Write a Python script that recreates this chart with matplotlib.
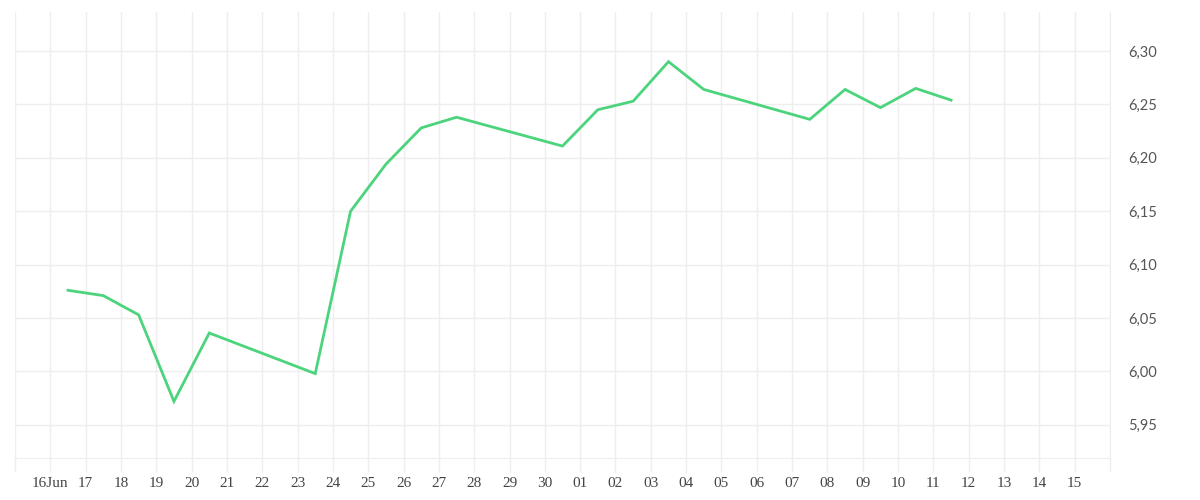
import numpy as np
import pandas as pd
import matplotlib
matplotlib.use("Agg")
import matplotlib.pyplot as plt
import matplotlib.dates as mdates
from matplotlib.ticker import FixedLocator, FuncFormatter

# data (points sit at midday)
dates = ["2023-06-16", "2023-06-17", "2023-06-18", "2023-06-19", "2023-06-20",
         "2023-06-23", "2023-06-24", "2023-06-25", "2023-06-26", "2023-06-27",
         "2023-06-30", "2023-07-01", "2023-07-02", "2023-07-03", "2023-07-04",
         "2023-07-07", "2023-07-08", "2023-07-09", "2023-07-10", "2023-07-11"]
values = [6.076, 6.071, 6.053, 5.972, 6.036,
          5.998, 6.150, 6.194, 6.228, 6.238,
          6.211, 6.245, 6.253, 6.290, 6.264,
          6.236, 6.264, 6.247, 6.265, 6.254]
yticks = [5.95, 6.00, 6.05, 6.10, 6.15, 6.20, 6.25, 6.30]

x = pd.to_datetime(dates) + pd.Timedelta(hours=12)
days = pd.date_range("2023-06-15", "2023-07-16", freq="D")

grid = "#eeeeee"
fig = plt.figure(figsize=(12, 5), dpi=100)
ax = fig.add_axes([15 / 1200, 42 / 500, 1095 / 1200, 446 / 500])

ax.plot(x, values, color="#4cd47d", lw=2, solid_joinstyle="miter")

ax.set_xlim(days[0], days[-1])
ax.set_ylim(5.919, 6.3365)

ax.xaxis.set_major_locator(FixedLocator(mdates.date2num(days)))

def xfmt(v, pos):
    d = mdates.num2date(v)
    if d.day == 15 and d.month == 6 or d.day == 16 and d.month == 7:
        return ""
    if d.day == 16 and d.month == 6:
        return "16Jun"
    return d.strftime("%d")

ax.xaxis.set_major_formatter(FuncFormatter(xfmt))
ax.set_yticks(yticks)
ax.yaxis.set_major_formatter(FuncFormatter(lambda v, p: f"{v:.2f}".replace(".", ",")))
ax.yaxis.tick_right()

ax.grid(True, color=grid, lw=1)
ax.set_axisbelow(True)
for s in ["top", "left"]:
    ax.spines[s].set_visible(False)
ax.spines["right"].set_color(grid)
ax.spines["bottom"].set_color(grid)

ax.tick_params(axis="x", length=10, color=grid, width=1, pad=4,
               labelcolor="#444444")
ax.tick_params(axis="y", length=0, pad=13, labelcolor="#555555")
for lbl in ax.get_xticklabels():
    lbl.set_family("Liberation Serif")
    lbl.set_fontsize(11)
for lbl in ax.get_yticklabels():
    lbl.set_family("Lato")
    lbl.set_fontsize(10.5)

fig.savefig("out.png", dpi=100, facecolor="white")
